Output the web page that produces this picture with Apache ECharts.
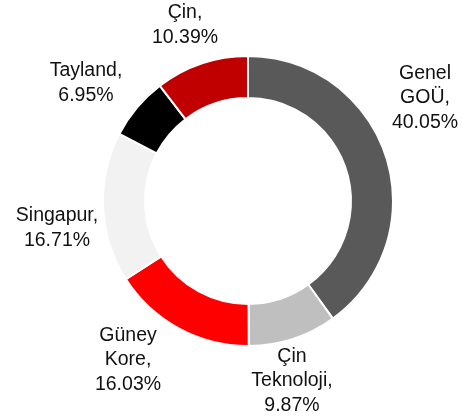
<!DOCTYPE html>
<html>
<head>
<meta charset="utf-8">
<script src="https://cdn.jsdelivr.net/npm/echarts@6/dist/echarts.min.js"></script>
<style>
html,body{margin:0;padding:0;background:#fff;}
#chart{width:471px;height:418px;}
</style>
</head>
<body>
<div id="chart"></div>
<script>
var categories = ['Genel\nGOÜ', 'Çin\nTeknoloji', 'Güney\nKore', 'Singapur', 'Tayland', 'Çin'];
var values = [40.05, 9.87, 16.03, 16.71, 6.95, 10.39];
var colors = ['#595959', '#bfbfbf', '#ff0000', '#f2f2f2', '#000000', '#c00000'];
var labelPos = [[425, 98], [292, 381], [128, 360], [57, 228], [86, 83], [185, 25]];

var chart = echarts.init(document.getElementById('chart'), null, {renderer: 'canvas'});
var data = categories.map(function (c, i) {
  return { name: c, value: values[i], itemStyle: { color: colors[i] } };
});
chart.setOption({
  animation: false,
  series: [{
    type: 'pie',
    center: [248, 201],
    radius: [103, 145],
    startAngle: 90,
    clockwise: true,
    avoidLabelOverlap: false,
    data: data,
    itemStyle: { borderColor: '#ffffff', borderWidth: 2 },
    label: {
      show: true,
      position: 'outside',
      formatter: function (p) { return p.name + ',\n' + p.value.toFixed(2) + '%'; },
      fontFamily: 'Liberation Sans, Arial, sans-serif',
      fontSize: 19.5,
      lineHeight: 24.5,
      color: '#111111',
      align: 'center',
      overflow: 'none',
      width: 200
    },
    labelLine: { show: false },
    labelLayout: function (params) {
      var p = labelPos[params.dataIndex];
      return { x: p[0], y: p[1], align: 'center', verticalAlign: 'middle' };
    },
    emphasis: { disabled: true }
  }]
});
</script>
</body>
</html>
